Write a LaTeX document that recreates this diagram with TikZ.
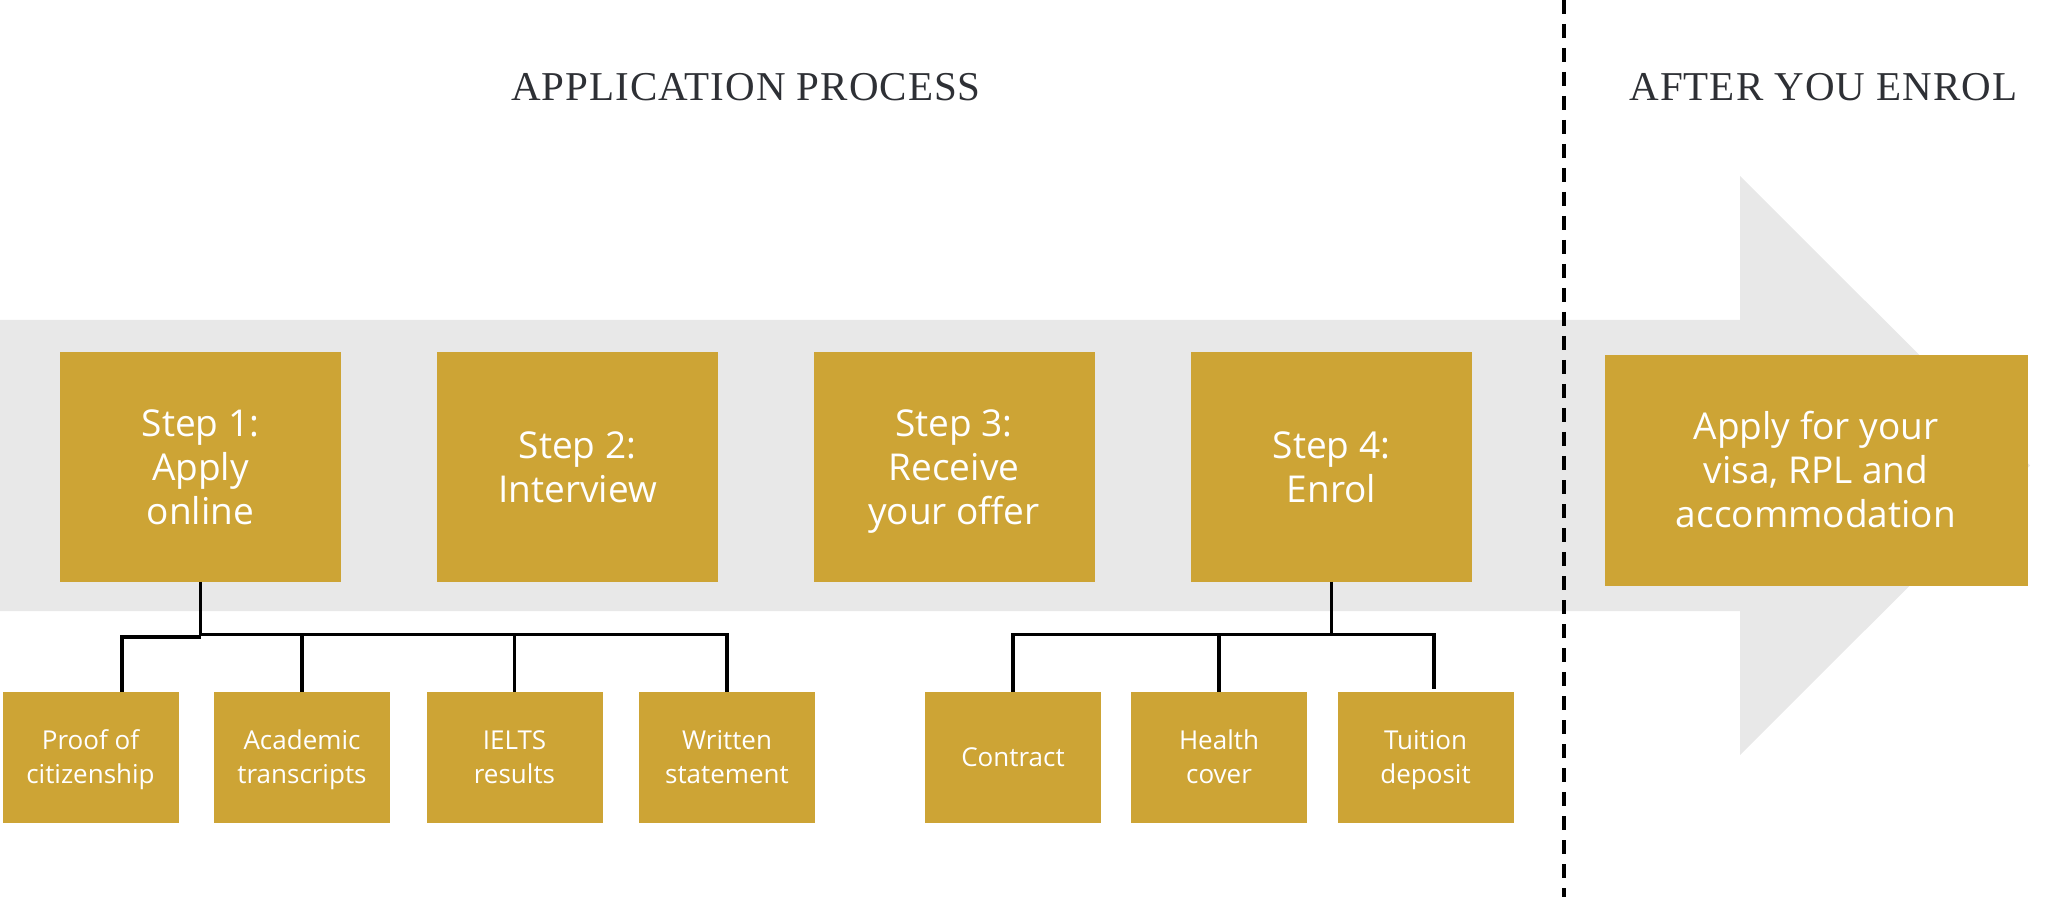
\documentclass[tikz,border=0pt]{standalone}
\usepackage{fontspec}
\setmainfont{Liberation Serif}
\newfontfamily\headfont[LetterSpace=2.5]{Liberation Serif}
\newfontfamily\boxfont{Open Sans}
\usepackage{tikz}
\usetikzlibrary{calc}
\usepackage{xcolor}
\definecolor{gold}{HTML}{CDA435}
\definecolor{band}{HTML}{E8E8E8}
\definecolor{titlegray}{HTML}{2E3035}
\newcommand{\stepgap}{\rule{0pt}{20pt}}
\newcommand{\subgap}{\rule{0pt}{14pt}}

\begin{document}
\begin{tikzpicture}[x=0.5pt, y=-0.5pt,
  stepbox/.style={fill=gold, text=white, inner sep=0pt, align=center,
    minimum width=140.5pt, minimum height=114.5pt,
    execute at end node=\strut,
    font=\boxfont\fontsize{18.5}{22}\selectfont},
  subbox/.style={fill=gold, text=white, inner sep=0pt, align=center,
    minimum width=88pt, minimum height=65.5pt,
    execute at end node=\strut,
    font=\boxfont\fontsize{13}{17}\selectfont},
  head/.style={anchor=base, text=titlegray, font=\headfont\fontsize{20.5}{24}\selectfont},
  link/.style={line width=1.75pt}]
\useasboundingbox (0,0) rectangle (2048,897);
% --- freccia grigia di sfondo ---
\fill[band] (0,320) -- (1740,320) -- (1740,176) -- (2030,465.5) -- (1740,755) -- (1740,611) -- (0,611) -- cycle;
% --- titoli e separatore ---
\node[head] (tapp) at (746,101) {APPLICATION PROCESS};
\node[head] (taft) at (1823.5,101) {AFTER YOU ENROL};
\draw[line width=2pt, dash pattern=on 7pt off 5pt] (1563.5,0) -- (1563.5,897);
% --- passi ---
\node[stepbox] (s1) at (200.5,467) {\stepgap Step 1:\\Apply\\online};
\node[stepbox] (s2) at (577.5,467) {\stepgap Step 2:\\Interview};
\node[stepbox] (s3) at (954,467) {\stepgap Step 3:\\Receive\\your offer};
\node[stepbox] (s4) at (1331.5,467) {\stepgap Step 4:\\Enrol};
\node[stepbox, minimum width=211.5pt, minimum height=115pt] (after) at (1816,470.5) {\stepgap Apply for your\\visa, RPL and\\accommodation};
% --- documenti ---
\node[subbox] (proof) at (90.5,757.5) {\subgap Proof of\\citizenship};
\node[subbox] (acad) at (302,757.5) {\subgap Academic\\transcripts};
\node[subbox] (ielts) at (514.5,757.5) {\subgap IELTS\\results};
\node[subbox] (writ) at (727,757.5) {\subgap Written\\statement};
\node[subbox] (contr) at (1013,757.5) {\subgap Contract};
\node[subbox] (health) at (1219,757.5) {\subgap Health\\cover};
\node[subbox] (tuit) at (1425.5,757.5) {\subgap Tuition\\deposit};
% --- collegamenti ---
\coordinate (busA) at (0,634.5);
\coordinate (busB) at (0,637);
\draw[link] (s1.south) -- (s1.south |- busA) -- (writ.north |- busA) -- (writ.north);
\draw[link] ([xshift=15.75pt]proof.north) -- ([xshift=15.75pt]proof.north |- busB) -- (s1.south |- busB);
\draw[link] (acad.north |- busA) -- (acad.north);
\draw[link] (ielts.north |- busA) -- (ielts.north);
\draw[link] (s4.south) -- (s4.south |- busA);
\draw[link] (contr.north) -- (contr.north |- busA) -- ([xshift=4.2pt]tuit.north |- busA) -- ([xshift=4.2pt,yshift=1.5pt]tuit.north);
\draw[link] (health.north |- busA) -- (health.north);
\end{tikzpicture}
\end{document}
